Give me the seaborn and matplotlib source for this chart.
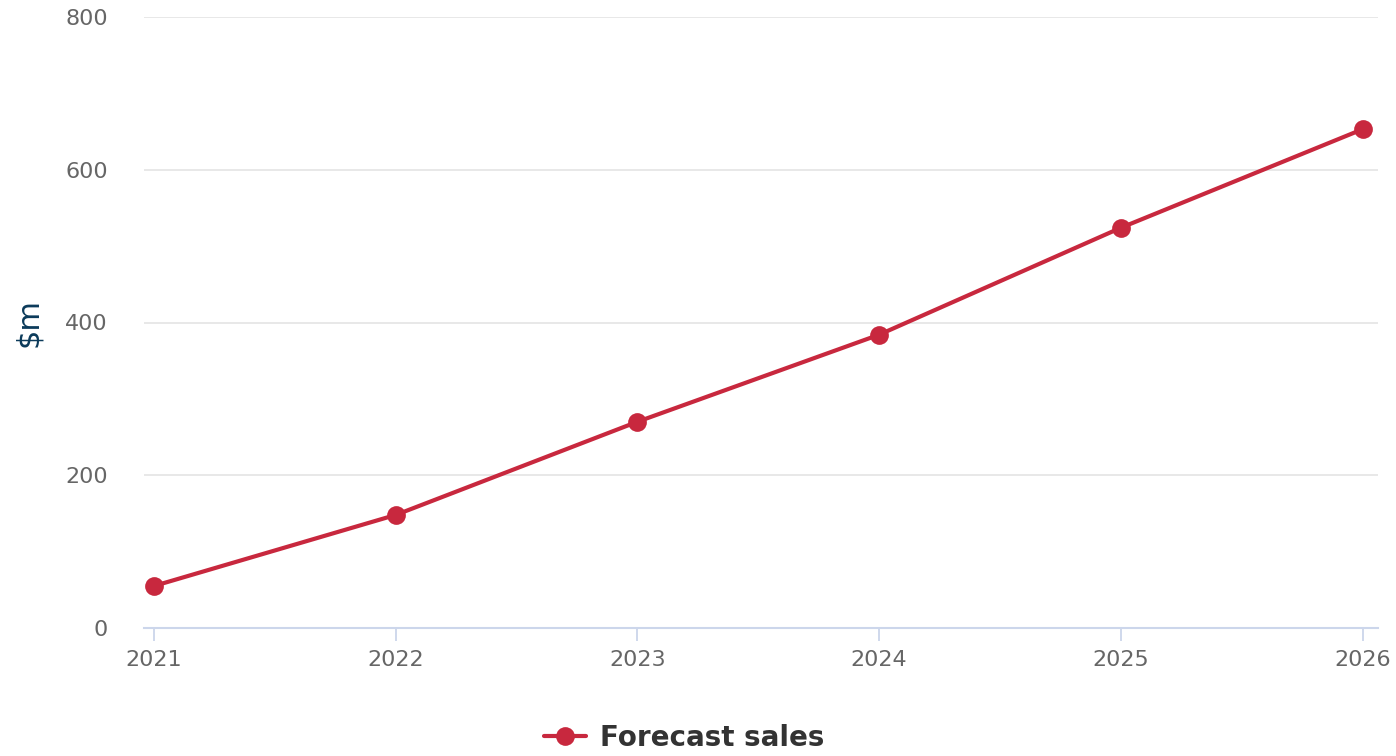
import matplotlib
matplotlib.use('Agg')
import matplotlib.pyplot as plt
import seaborn as sns
import pandas as pd

# data
years = [2021, 2022, 2023, 2024, 2025, 2026]
forecast_sales = [55, 148, 270, 384, 524, 653]
y_ticks = [0, 200, 400, 600, 800]

df = pd.DataFrame({"year": years, "Forecast sales": forecast_sales})

sns.set_theme(style="white")
plt.rcParams['font.family'] = ['DejaVu Sans']

LINE_COLOR = '#c8283e'

fig = plt.figure(figsize=(13.96, 7.56), dpi=100)
ax = fig.add_axes([144 / 1396, 1 - 628 / 756, (1378 - 144) / 1396, (628 - 17) / 756])

sns.lineplot(data=df, x="year", y="Forecast sales", ax=ax, color=LINE_COLOR,
             linewidth=3.0, marker='o', markersize=13.5, markeredgewidth=0,
             label="Forecast sales", legend=False, zorder=3)

ax.set_xlim(years[0] - 0.041, years[-1] + 0.064)
ax.set_ylim(0, 800)
ax.set_xticks(years)
ax.set_xticklabels([str(y) for y in years])
ax.set_yticks(y_ticks)

ax.grid(axis='y', color='#e6e6e6', linewidth=1.3)
ax.grid(axis='x', visible=False)
ax.set_axisbelow(True)

for s in ['top', 'right', 'left']:
    ax.spines[s].set_visible(False)
ax.spines['bottom'].set_color('#ccd6eb')
ax.spines['bottom'].set_linewidth(1.5)

ax.tick_params(axis='x', colors='#666666', labelsize=16, length=9, width=1.3,
               color='#ccd6eb', direction='out', pad=7, bottom=True)
ax.tick_params(axis='y', colors='#666666', labelsize=16, length=0, pad=26)
for lbl in ax.get_yticklabels():
    lbl.set_horizontalalignment('right')

ax.set_xlabel('')
ax.set_ylabel('$m', fontsize=22, color='#0b3a5a', labelpad=16)

handles, labels = ax.get_legend_handles_labels()
leg = fig.legend(handles, labels, loc='center', bbox_to_anchor=(0.49, 1 - 738 / 756),
                 frameon=False, handlelength=1.5, handletextpad=0.5,
                 prop={'size': 20, 'weight': 'bold'})
for t in leg.get_texts():
    t.set_color('#333333')

fig.savefig('out.png', dpi=100, facecolor='white')
